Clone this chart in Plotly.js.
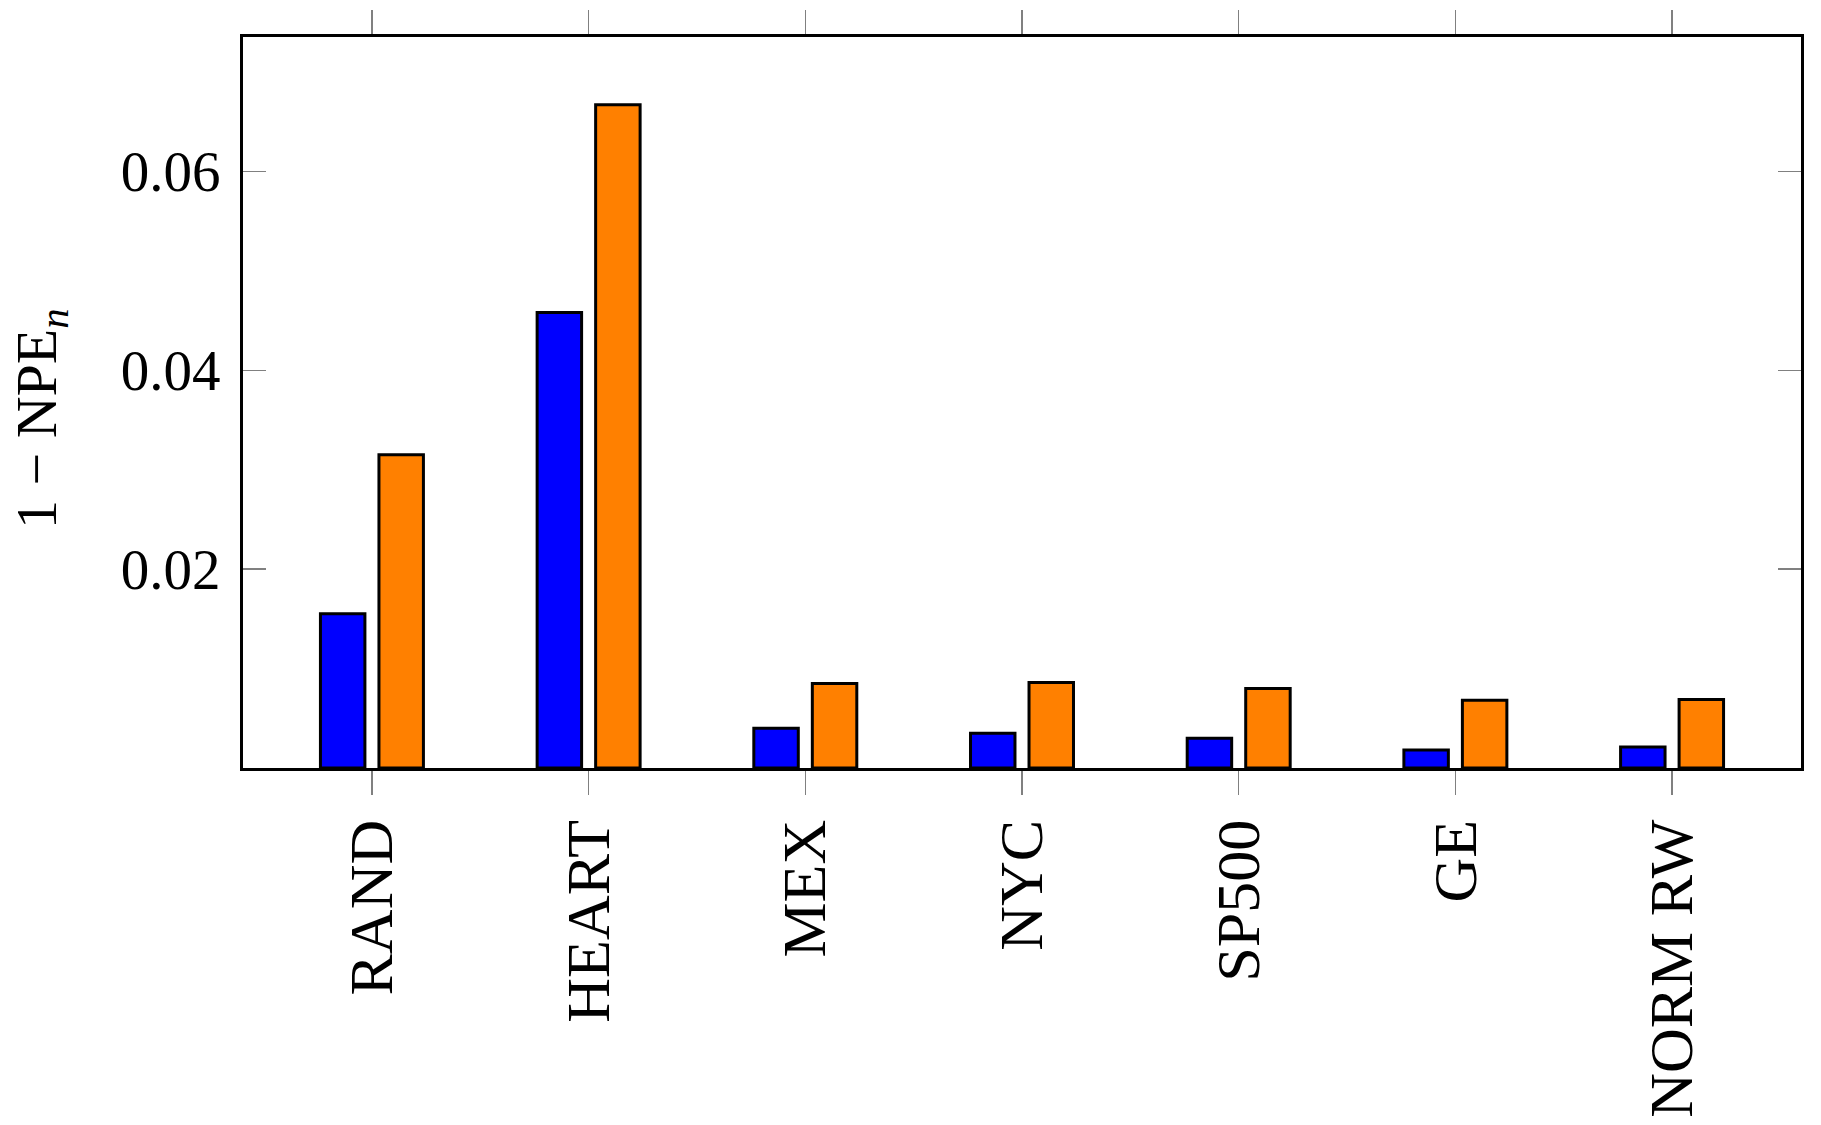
<!DOCTYPE html>
<html>
<head>
<meta charset="utf-8">
<script src="https://cdn.plot.ly/plotly-3.0.1.min.js"></script>
<style>
  html, body { margin: 0; padding: 0; background: #fff; }
  #myDiv { width: 1821px; height: 1125px; }
</style>
</head>
<body>
<div id="myDiv"></div>
<script>
// data
var categories = ['RAND', 'HEART', 'MEX', 'NYC', 'SP500', 'GE', 'NORM RW'];
var blueVals   = [0.0155, 0.0458, 0.0040, 0.0035, 0.0030, 0.0018, 0.0021];
var orangeVals = [0.0315, 0.0667, 0.0085, 0.0086, 0.0080, 0.0068, 0.0069];
var yTicks     = [0.02, 0.04, 0.06];
var yTickText  = ['0.02', '0.04', '0.06'];

var serif = 'Liberation Serif, DejaVu Serif, serif';

var data = [
  {
    type: 'bar',
    x: categories,
    y: blueVals,
    marker: { color: '#0000FF', line: { color: '#000', width: 3 } },
    hoverinfo: 'x+y'
  },
  {
    type: 'bar',
    x: categories,
    y: orangeVals,
    marker: { color: '#FF8000', line: { color: '#000', width: 3 } },
    hoverinfo: 'x+y'
  }
];

var layout = {
  width: 1821,
  height: 1125,
  margin: { l: 243, r: 20, t: 37, b: 357, pad: 0 },
  paper_bgcolor: '#fff',
  plot_bgcolor: '#fff',
  showlegend: false,
  barmode: 'group',
  bargap: 0.46,
  bargroupgap: 0.24,
  font: { family: serif, color: '#000' },
  xaxis: {
    type: 'category',
    range: [-0.595, 6.595],
    showgrid: false,
    zeroline: false,
    showline: true,
    linecolor: '#000',
    linewidth: 3,
    mirror: 'ticks',
    ticks: 'outside',
    ticklen: 24,
    tickwidth: 1.2,
    tickcolor: '#808080',
    tickangle: -90,
    ticklabelstandoff: 0,
    tickfont: { family: serif, size: 62, color: '#000' },
    automargin: false
  },
  yaxis: {
    range: [0, 0.0735],
    showgrid: false,
    zeroline: false,
    showline: true,
    linecolor: '#000',
    linewidth: 3,
    mirror: 'ticks',
    ticks: 'inside',
    ticklen: 23,
    tickwidth: 1.2,
    tickcolor: '#808080',
    tickvals: yTicks,
    ticktext: yTickText,
    ticklabelstandoff: 8,
    tickfont: { family: serif, size: 57, color: '#000' },
    automargin: false
  },
  annotations: [
    {
      xref: 'paper', yref: 'paper',
      x: -0.130, y: 0.478,
      xanchor: 'center', yanchor: 'middle',
      textangle: -90,
      showarrow: false,
      text: '1 − NPE<sub><i>n</i></sub>',
      font: { family: serif, size: 58, color: '#000' }
    }
  ]
};

Plotly.newPlot('myDiv', data, layout, { staticPlot: true });
</script>
</body>
</html>
